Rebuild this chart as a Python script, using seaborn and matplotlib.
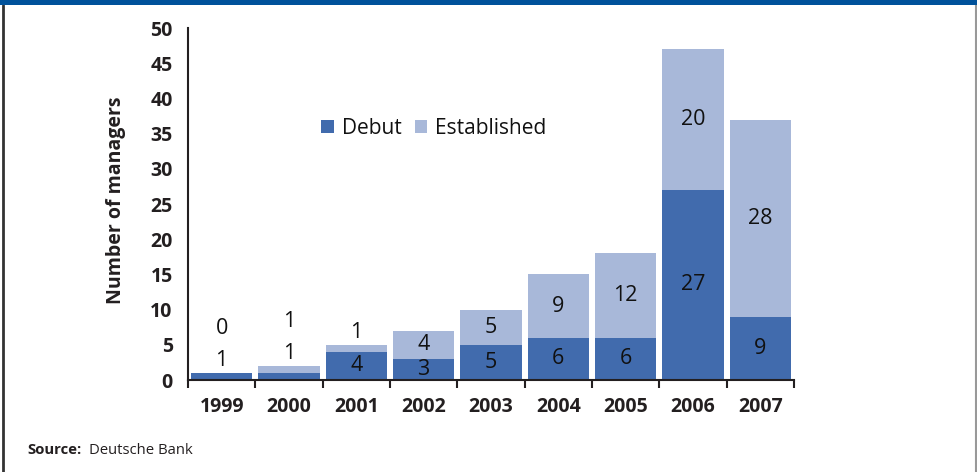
import matplotlib
matplotlib.use("Agg")
import matplotlib.pyplot as plt
from matplotlib.patches import Rectangle, Patch
from matplotlib.lines import Line2D
import seaborn as sns
import pandas as pd
import numpy as np

years = ["1999", "2000", "2001", "2002", "2003", "2004", "2005", "2006", "2007"]
debut = [1, 1, 4, 3, 5, 6, 6, 27, 9]
established = [0, 1, 1, 4, 5, 9, 12, 20, 28]
y_ticks = [0, 5, 10, 15, 20, 25, 30, 35, 40, 45, 50]

DARK = "#416BAD"
LIGHT = "#A8B8D9"
BAND = "#00529B"
AXC = "#231F20"

sns.set_theme(style="white")
plt.rcParams["font.family"] = ["Open Sans", "DejaVu Sans"]

df = pd.DataFrame({"year": years, "debut": debut, "established": established})
df["total"] = df["debut"] + df["established"]

fig = plt.figure(figsize=(9.77, 4.72), dpi=100)
ax = fig.add_axes([188 / 977, 1 - 380 / 472, (794 - 188) / 977, (380 - 28) / 472])

sns.barplot(data=df, x="year", y="total", color=LIGHT, width=0.91, saturation=1,
            linewidth=0, edgecolor="none", ax=ax)
sns.barplot(data=df, x="year", y="debut", color=DARK, width=0.91, saturation=1,
            linewidth=0, edgecolor="none", ax=ax)

ax.set_xlim(-0.5, len(years) - 0.5)
ax.set_ylim(0, 50)
ax.set_yticks(y_ticks)
ax.set_yticklabels([str(v) for v in y_ticks], fontsize=14, fontweight="bold", color=AXC)
ax.set_xticks(range(len(years)))
ax.set_xticklabels(years, fontsize=14, fontweight="bold", color=AXC)
ax.set_xticks(np.arange(-0.5, len(years)), minor=True)
ax.tick_params(axis="x", which="major", length=0, pad=12)
ax.tick_params(axis="x", which="minor", length=6, width=1.5, color=AXC, direction="out", bottom=True)
ax.tick_params(axis="y", which="major", length=5, width=1.5, color=AXC, direction="out", pad=6)

for side in ["top", "right"]:
    ax.spines[side].set_visible(False)
for side in ["left", "bottom"]:
    ax.spines[side].set_color(AXC)
    ax.spines[side].set_linewidth(1.5)

ax.set_xlabel("")
ax.set_ylabel("")
fig.text(116 / 977, 1 - 200 / 472, "Number of managers", rotation=90, fontsize=14,
         fontweight="bold", color=AXC, ha="center", va="center")

# value labels
for i, (d, e) in enumerate(zip(debut, established)):
    tot = d + e
    outside = []
    if d >= 2:
        ax.text(i, d / 2, str(d), ha="center", va="center", fontsize=15.5, color="#111111")
    else:
        outside.append(d)
    if (e >= 2 and d >= 2) or e >= 3:
        ax.text(i, d + e / 2, str(e), ha="center", va="center", fontsize=15.5, color="#111111")
    else:
        outside.append(e)
    for k, v in enumerate(outside):
        ax.annotate(str(v), xy=(i, tot), xytext=(0, 9 + 23 * k), textcoords="offset points",
                    ha="center", va="center", fontsize=15.5, color="#111111")

handles = [Patch(facecolor=DARK, edgecolor="none", label="Debut"),
           Patch(facecolor=LIGHT, edgecolor="none", label="Established")]
fig.legend(handles=handles, loc="center", bbox_to_anchor=(434 / 977, 1 - 128 / 472),
           ncol=2, frameon=False, fontsize=15, handlelength=0.6, handleheight=0.6,
           handletextpad=0.4, columnspacing=0.6, labelcolor="#111111")

# frame decorations
fig.patches.append(Rectangle((0, 1 - 5 / 472), 1, 5 / 472, transform=fig.transFigure,
                             facecolor=BAND, edgecolor="none", zorder=5))
fig.lines.append(Line2D([3 / 977, 3 / 977], [0, 1 - 5 / 472], transform=fig.transFigure,
                        color="#333333", linewidth=2))
fig.lines.append(Line2D([975.5 / 977, 975.5 / 977], [0, 1 - 5 / 472], transform=fig.transFigure,
                        color="#999999", linewidth=1.5))

fig.text(27 / 977, 1 - 450 / 472, "Source:", fontsize=10.7, fontweight="bold", color=AXC,
         ha="left", va="center")
fig.text(89 / 977, 1 - 450 / 472, "Deutsche Bank", fontsize=10.7, color=AXC,
         ha="left", va="center")

fig.savefig("out.png", dpi=100, facecolor="white")
